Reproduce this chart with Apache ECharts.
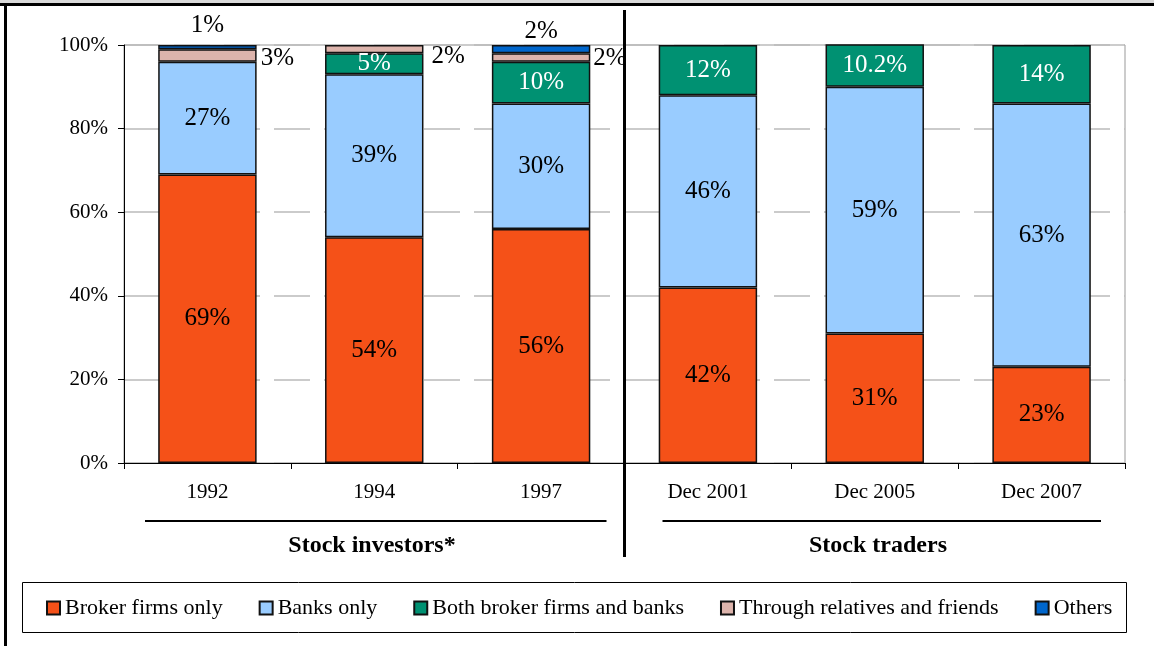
<!DOCTYPE html>
<html>
<head>
<meta charset="utf-8">
<script src="https://cdn.jsdelivr.net/npm/echarts@6/dist/echarts.min.js"></script>
<style>
  html, body { margin: 0; padding: 0; background: #fff; }
  #chart { width: 1154px; height: 646px; }
</style>
</head>
<body>
<div id="chart"></div>
<script>
// chart data
const categories = ['1992', '1994', '1997', 'Dec 2001', 'Dec 2005', 'Dec 2007']
const brokerOnly = [69, 54, 56, 42, 31, 23]
const banksOnly = [27, 39, 30, 46, 59, 63]
const bothBrokerBanks = [null, 5, 10, 12, 10.2, 14]
const relativesFriends = [3, 2, 2, null, null, null]
const others = [1, null, 2, null, null, null]
const yTicks = [0, 20, 40, 60, 80, 100]
const groupNames = ['Stock investors*', 'Stock traders']

const FONT = '"Liberation Serif", "Times New Roman", serif'
const border = { borderColor: '#111', borderWidth: 1.5 }

// grid box
const G = { left: 124, right: 29, top: 45, bottom: 183 }
const W = 1154, H = 646
const plotW = W - G.left - G.right
const catW = plotW / categories.length
const sepX = G.left + catW * 3

// small labels that sit outside the bar
const relLabels = [
  { distance: 4, offset: [0, 3] },
  { distance: 8, offset: [0, 7] },
  { distance: 3, offset: [0, 1] }
]
const otherLabels = [
  { distance: 7 },
  null,
  { distance: 1 }
]

function pct(p) {
  return p.value == null ? '' : p.value + '%'
}

function mk(name, data, color, labelColor, extra) {
  return {
    name: name,
    type: 'bar',
    stack: 'total',
    barWidth: '59%',
    data: data.map((v, i) => {
      const item = { value: v }
      if (extra && extra[i]) item.label = extra[i]
      return item
    }),
    itemStyle: Object.assign({ color: color }, border),
    label: {
      show: true,
      position: 'inside',
      color: labelColor,
      fontFamily: FONT,
      fontSize: 25,
      formatter: pct
    }
  }
}

const chart = echarts.init(document.getElementById('chart'))

const seriesList = [
  mk('Broker firms only', brokerOnly, '#F55118', '#000'),
  mk('Banks only', banksOnly, '#99CCFF', '#000'),
  mk('Both broker firms and banks', bothBrokerBanks, '#009172', '#fff'),
  mk('Through relatives and friends', relativesFriends, '#DDB4AC', '#000'),
  mk('Others', others, '#0066CC', '#000')
]
seriesList[3].label.position = 'right'
seriesList[3].data.forEach((d, i) => { if (relLabels[i]) d.label = relLabels[i] })
seriesList[4].label.position = 'top'
seriesList[4].data.forEach((d, i) => { if (otherLabels[i]) d.label = otherLabels[i] })

chart.setOption({
  animation: false,
  backgroundColor: '#fff',
  textStyle: { fontFamily: FONT, color: '#000' },
  grid: {
    left: G.left,
    right: G.right,
    top: G.top,
    bottom: G.bottom,
    show: true,
    borderColor: '#999',
    borderWidth: 1
  },
  legend: {
    left: 46,
    top: 597,
    padding: 0,
    itemGap: 36,
    itemWidth: 13,
    itemHeight: 13,
    icon: 'rect',
    textStyle: { fontFamily: FONT, fontSize: 22, color: '#000' },
    data: seriesList.map(s => s.name)
  },
  xAxis: {
    type: 'category',
    data: categories,
    axisLine: { lineStyle: { color: '#000', width: 1 } },
    axisTick: { show: true, length: 6, lineStyle: { color: '#000' } },
    axisLabel: { margin: 19, fontFamily: FONT, fontSize: 21, color: '#000' }
  },
  yAxis: {
    type: 'value',
    min: yTicks[0],
    max: yTicks[yTicks.length - 1],
    interval: yTicks[1] - yTicks[0],
    axisLine: { show: true, lineStyle: { color: '#000', width: 1 } },
    axisTick: { show: true, length: 6, lineStyle: { color: '#000' } },
    axisLabel: { margin: 16, fontFamily: FONT, fontSize: 21, color: '#000', formatter: '{value}%' },
    splitLine: { show: true, lineStyle: { color: '#bbb', type: [36, 14], width: 1.5 } }
  },
  series: seriesList,
  graphic: [
    // page frame
    { type: 'rect', shape: { x: 0, y: 0, width: W, height: 3 }, style: { fill: '#d9d9d9' } },
    { type: 'rect', shape: { x: 0, y: 3, width: W, height: 3 }, style: { fill: '#000' } },
    { type: 'rect', shape: { x: 4, y: 3, width: 3, height: H - 3 }, style: { fill: '#000' } },
    // divider between the two groups
    { type: 'rect', z: 10, shape: { x: sepX - 1.5, y: 10, width: 3, height: 547 }, style: { fill: '#000' } },
    // group underlines
    { type: 'line', shape: { x1: G.left + 21, y1: 521, x2: sepX - 18, y2: 521 }, style: { stroke: '#000', lineWidth: 2 } },
    { type: 'line', shape: { x1: sepX + 38, y1: 521, x2: W - G.right - 24, y2: 521 }, style: { stroke: '#000', lineWidth: 2 } },
    // group titles
    { type: 'text', x: 372, y: 546, style: { text: groupNames[0], font: 'bold 24px ' + FONT, fill: '#000', align: 'center', verticalAlign: 'middle' } },
    { type: 'text', x: 878, y: 546, style: { text: groupNames[1], font: 'bold 24px ' + FONT, fill: '#000', align: 'center', verticalAlign: 'middle' } },
    // legend frame
    { type: 'rect', z: -1, shape: { x: 22.5, y: 582.5, width: 1104, height: 50 }, style: { fill: '#fff', stroke: '#000', lineWidth: 1 } }
  ]
})
</script>
</body>
</html>
